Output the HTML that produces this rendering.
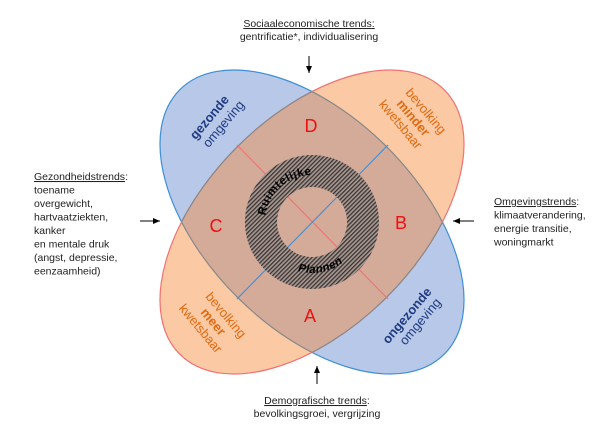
<!DOCTYPE html>
<html><head><meta charset="utf-8"><style>
html,body{margin:0;padding:0;background:#fff;}
svg{display:block;}
text{font-family:"Liberation Sans",sans-serif;}
</style></head><body>
<svg width="604" height="438" viewBox="0 0 604 438" xmlns="http://www.w3.org/2000/svg">
<defs>
<clipPath id="co"><ellipse cx="312" cy="222" rx="187" ry="106" transform="rotate(-45 312 222)"/></clipPath>
<clipPath id="cb"><ellipse cx="312" cy="222" rx="187" ry="106" transform="rotate(45 312 222)"/></clipPath>
<pattern id="hatch" width="3" height="3" patternUnits="userSpaceOnUse" patternTransform="rotate(45)">
<rect width="3" height="3" fill="#a89890"/><rect width="1.3" height="3" fill="#3a3434"/></pattern>
<marker id="ar" markerWidth="8" markerHeight="8" refX="7" refY="4" orient="auto" markerUnits="userSpaceOnUse">
<path d="M0,1 L7,4 L0,7 z" fill="#000"/></marker>
<path id="tp1" d="M 265 222 A 47 47 0 0 1 359 222"/>
<path id="tp2" d="M 261 222 A 51 51 0 0 0 363 222"/>
</defs>
<ellipse cx="312" cy="222" rx="187" ry="106" transform="rotate(45 312 222)" fill="#b8c8e8" stroke="#3d8fd6" stroke-width="1.2"/>
<ellipse cx="312" cy="222" rx="187" ry="106" transform="rotate(-45 312 222)" fill="#fbc9a3" stroke="#f07272" stroke-width="1.2"/>
<g clip-path="url(#co)">
<ellipse cx="312" cy="222" rx="187" ry="106" transform="rotate(45 312 222)" fill="#d4aa98" stroke="#888" stroke-width="1.2"/>
</g>
<g clip-path="url(#cb)">
<ellipse cx="312" cy="222" rx="187" ry="106" transform="rotate(-45 312 222)" fill="none" stroke="#888" stroke-width="1.2"/>
</g>
<line x1="237" y1="145" x2="388" y2="299" stroke="#f07272" stroke-width="1.1"/>
<line x1="388" y1="145" x2="237" y2="299" stroke="#3d8fd6" stroke-width="1.1"/>
<path d="M 312 155 A 67 67 0 1 1 311.9 155 Z M 312 187 A 35 35 0 1 0 312.1 187 Z" fill="url(#hatch)" fill-rule="evenodd"/>
<text font-size="11.5" font-weight="bold" fill="#000"><textPath href="#tp1" startOffset="27%" text-anchor="middle" letter-spacing="0.5">Ruimtelijke</textPath></text>
<text font-size="11.5" font-weight="bold" fill="#000" font-style="italic"><textPath href="#tp2" startOffset="56%" text-anchor="middle" letter-spacing="0.5">Plannen</textPath></text>
<g font-size="18" fill="#f01010" text-anchor="middle">
<text x="311" y="132">D</text><text x="401" y="229">B</text><text x="216" y="232">C</text><text x="310" y="322">A</text>
</g>
<g font-size="13" text-anchor="middle">
<g transform="translate(215,122) rotate(-50)" fill="#1f3a80"><text y="-3" font-weight="bold">gezonde</text><text x="4" y="12">omgeving</text></g>
<g transform="translate(413,118) rotate(50)" fill="#e26a12"><text x="3" y="-10">bevolking</text><text y="4" font-weight="bold">minder</text><text x="-3" y="18">kwetsbaar</text></g>
<g transform="translate(213,322) rotate(50)" fill="#e26a12"><text x="3" y="-10">bevolking</text><text y="4" font-weight="bold">meer</text><text x="-3" y="18">kwetsbaar</text></g>
<g transform="translate(411,319) rotate(-50)" fill="#1f3a80"><text y="-1" font-weight="bold">ongezonde</text><text x="4" y="13">omgeving</text></g>
</g>
<g stroke="#000" stroke-width="1" marker-end="url(#ar)">
<line x1="309" y1="56" x2="309" y2="73"/>
<line x1="140" y1="221" x2="160" y2="221"/>
<line x1="474" y1="221" x2="453" y2="221"/>
<line x1="317" y1="384" x2="317" y2="366"/>
</g>
<g font-size="10.5" fill="#222">
<text x="309" y="27" text-anchor="middle" text-decoration="underline">Sociaaleconomische trends<tspan text-decoration="none">:</tspan></text>
<text x="309" y="40" text-anchor="middle">gentrificatie*, individualisering</text>
<text x="34" y="180"><tspan text-decoration="underline">Gezondheidstrends</tspan>:</text>
<text x="34" y="193.5">toename</text>
<text x="34" y="207">overgewicht,</text>
<text x="34" y="220.5">hartvaatziekten,</text>
<text x="34" y="234">kanker</text>
<text x="34" y="247.5">en mentale druk</text>
<text x="34" y="261">(angst, depressie,</text>
<text x="34" y="274.5">eenzaamheid)</text>
<text x="494" y="205"><tspan text-decoration="underline">Omgevingstrends</tspan>:</text>
<text x="494" y="218.5">klimaatverandering,</text>
<text x="494" y="232">energie transitie,</text>
<text x="494" y="245.5">woningmarkt</text>
<text x="317" y="404" text-anchor="middle"><tspan text-decoration="underline">Demografische trends</tspan>:</text>
<text x="317" y="417" text-anchor="middle">bevolkingsgroei, vergrijzing</text>
</g>
</svg>
</body></html>
